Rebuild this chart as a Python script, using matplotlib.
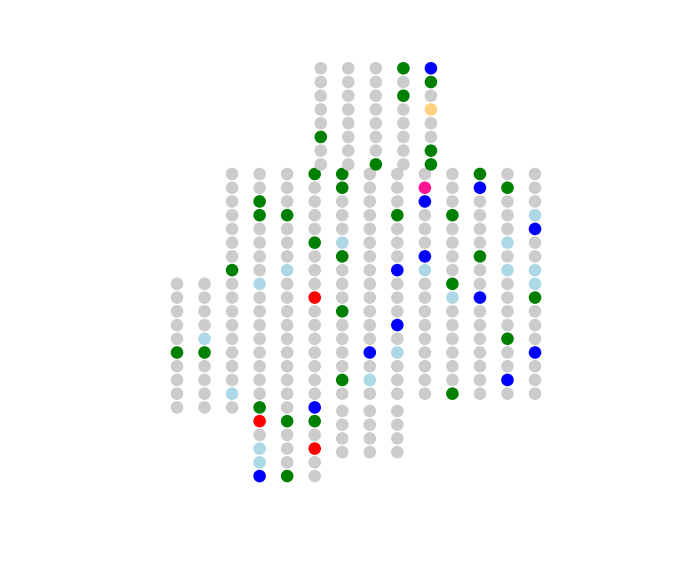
import matplotlib
matplotlib.use("Agg")
import matplotlib.pyplot as plt

# colour codes used in the column strings below
palette = {
    "g": "#cccccc",   # gray
    "G": "#008000",   # green
    "B": "#0000ff",   # blue
    "L": "#add8e6",   # light blue
    "R": "#ff0000",   # red
    "P": "#ff1493",   # deep pink
    "O": "#ffd27f",   # light orange
}

# main grid: one string per column, read top to bottom
main_cols = [
    "gggggGgggg",
    "ggggLGgggg",
    "gggggggGggggggggLg",
    "ggGGggggLggggggggGRgLLB",
    "gggGgggL" + "gggggggggg" + "GgggG",
    "GggggGgg" + "gR" + "ggggggg" + "B" + "GgRgg",
    "GGgggLGggg" + "G" + "ggggGg",
    "ggggggggggggg" + "BgLg",
    "gggGgggBgggBgLggg",
    "gPBgggBLggggggggg",
    "gggGggggGLggggggG",
    "GBggggGggBggggggg",
    "gGgggLgLggggGggBg",
    "gggLBggLLGgggBggg",
]
main_start = [8, 8, 0, 0, 0, 0, 0, 0, 0, 0, 0, 0, 0, 0]

# top block
top_cols = [
    "gggggGgg",
    "gggggggg",
    "gggggggG",
    "GgGggggg",
    "BGgOggGG",
]

# small block under the middle columns
bottom_cols = [
    "gggg",
    "gggg",
    "gggg",
]

# block offsets, in grid units (columns, rows)
blocks = [
    (main_cols, main_start, 0.0, 0.0),
    (top_cols, [0] * len(top_cols), 5.22, -7.70),
    (bottom_cols, [0] * len(bottom_cols), 6.0, 17.26),
]

fig = plt.figure(figsize=(6.93, 5.88), dpi=100)
ax = fig.add_axes([0, 0, 1, 1])

xs, ys, cs = [], [], []
for cols, starts, x0, y0 in blocks:
    for i, (col, s) in enumerate(zip(cols, starts)):
        for j, code in enumerate(col):
            xs.append(x0 + i)
            ys.append(y0 + s + j)
            cs.append(palette[code])

ax.scatter(xs, ys, s=82, c=cs, linewidths=0)

# grid step is ~27.54 px across and ~13.73 px down
ax.set_xlim(-177 / 27.54, (693 - 177) / 27.54)
ax.set_ylim((588 - 174) / 13.73, -174 / 13.73)
ax.axis("off")

fig.savefig("out.png", dpi=100, facecolor="white")
